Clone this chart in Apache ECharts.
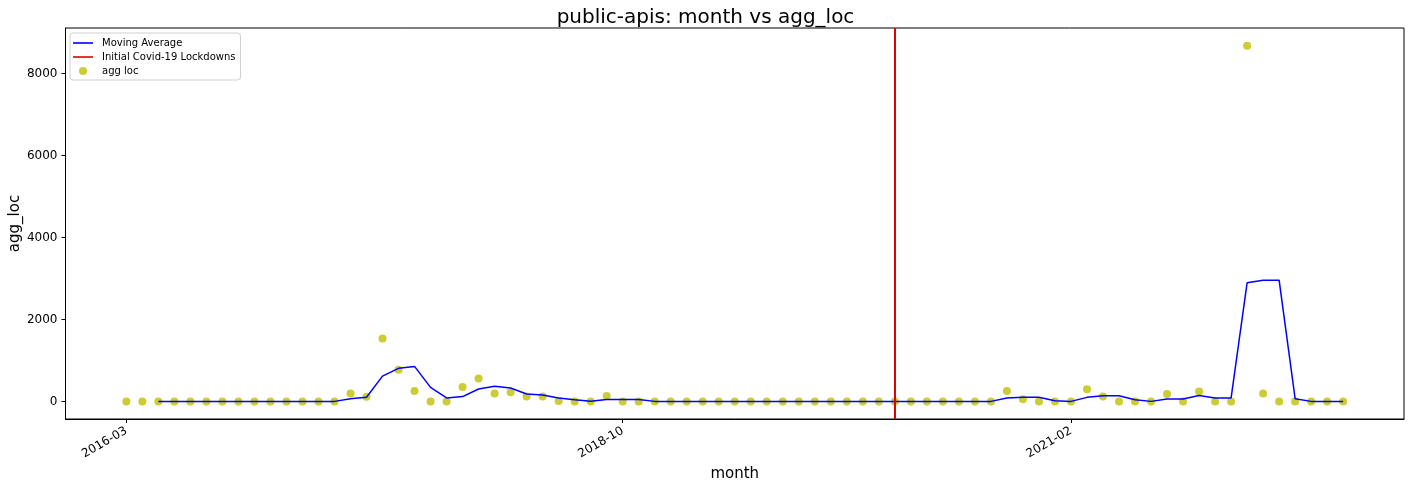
<!DOCTYPE html>
<html>
<head>
<meta charset="utf-8">
<script src="https://cdn.jsdelivr.net/npm/echarts@6/dist/echarts.min.js"></script>
<style>
  html, body { margin: 0; padding: 0; background: #fff; }
  #chart { width: 1411px; height: 489px; }
</style>
</head>
<body>
<div id="chart"></div>
<script>
// months 2016-03 .. 2022-07
var months = [];
for (var y = 2016, m = 3; months.length < 77; m++) {
  if (m > 12) { m = 1; y++; }
  months.push(y + '-' + (m < 10 ? '0' + m : m));
}

var aggLoc = [
  0, 0, 0, 0, 0, 0, 0, 0, 0, 0, 0, 0, 0, 0, 195, 112, 1537, 771, 251, 0,
  0, 349, 561, 195, 220, 122, 122, 10, 0, 0, 130, 0, 0, 0, 0, 0, 0, 0, 0, 0,
  0, 0, 0, 0, 0, 0, 0, 0, 0, 0, 0, 0, 0, 0, 0, 251, 49, 0, 0, 0,
  293, 122, 0, 0, 0, 178, 0, 244, 0, 0, 8676, 195, 0, 0, 0, 0, 0
];

var movingAvg = [
  null, null, 0, 0, 0, 0, 0, 0, 0, 0, 0, 0, 0, 0, 65, 102, 615, 807, 853, 341,
  84, 116, 303, 368, 325, 179, 155, 81, 41, 3, 43, 43, 43, 0, 0, 0, 0, 0, 0, 0,
  0, 0, 0, 0, 0, 0, 0, 0, 0, 0, 0, 0, 0, 0, 0, 84, 100, 100, 16, 0,
  98, 138, 138, 41, 0, 59, 59, 141, 81, 81, 2892, 2957, 2957, 65, 0, 0, 0
];

var tickMonths = ['2016-03', '2018-10', '2021-02'];
var yTicks = [0, 2000, 4000, 6000, 8000];
var lockdownMonth = '2020-03';

var chart = echarts.init(document.getElementById('chart'));

var tickIdx = tickMonths.map(function (t) { return months.indexOf(t); });

var option = {
  animation: false,
  backgroundColor: '#fff',
  title: {
    text: 'public-apis: month vs agg_loc',
    left: 'center',
    top: 3,
    textStyle: { fontFamily: 'DejaVu Sans', fontSize: 20, fontWeight: 'normal', color: '#000' }
  },
  legend: {
    orient: 'vertical',
    left: 70,
    top: 33,
    itemWidth: 20,
    itemHeight: 8,
    itemGap: 4,
    padding: [5, 5, 4, 3],
    borderColor: '#d0d0d0',
    borderWidth: 1,
    borderRadius: 3,
    textStyle: { fontFamily: 'DejaVu Sans', fontSize: 10, color: '#000', padding: [0, 0, 0, 4] },
    data: [
      { name: 'Moving Average', icon: 'path://M0,0 L20,0 L20,1.6 L0,1.6 Z' },
      { name: 'Initial Covid-19 Lockdowns', icon: 'path://M0,0 L20,0 L20,1.6 L0,1.6 Z' },
      { name: 'agg loc', icon: 'circle' }
    ]
  },
  grid: {
    left: 65.5,
    right: 7,
    top: 28,
    bottom: 70,
    containLabel: false,
    outerBoundsMode: 'none',
    show: true,
    borderColor: '#000',
    borderWidth: 1
  },
  xAxis: {
    type: 'value',
    min: -3.8,
    max: 79.8,
    name: 'month',
    nameLocation: 'middle',
    nameGap: 46,
    nameTextStyle: { fontFamily: 'DejaVu Sans', fontSize: 15, color: '#000' },
    splitLine: { show: false },
    axisLine: { onZero: false, lineStyle: { color: '#000' } },
    axisTick: { show: true, customValues: tickIdx, length: 4, lineStyle: { color: '#000', width: 1 } },
    axisLabel: {
      customValues: tickIdx,
      rotate: 30,
      margin: 11,
      fontFamily: 'DejaVu Sans',
      fontSize: 12,
      color: '#000',
      formatter: function (v) { return months[Math.round(v)] || ''; }
    }
  },
  yAxis: {
    type: 'value',
    min: -430,
    max: 9110,
    name: 'agg_loc',
    nameLocation: 'middle',
    nameGap: 43,
    nameMoveOverlap: false,
    nameTextStyle: { fontFamily: 'DejaVu Sans', fontSize: 15, color: '#000' },
    splitLine: { show: false },
    axisLine: { show: true, onZero: false, lineStyle: { color: '#000' } },
    axisTick: { show: true, customValues: yTicks, length: 4, lineStyle: { color: '#000', width: 1 } },
    axisLabel: {
      customValues: yTicks,
      margin: 8,
      fontFamily: 'DejaVu Sans',
      fontSize: 12,
      color: '#000',
      formatter: function (v) { return String(v); }
    }
  },
  series: [
    {
      name: 'Moving Average',
      type: 'line',
      color: '#0000ff',
      showSymbol: false,
      symbol: 'none',
      lineStyle: { width: 1.5, color: '#0000ff' },
      data: movingAvg.map(function (v, i) { return [i, v]; }),
      z: 3
    },
    {
      name: 'Initial Covid-19 Lockdowns',
      type: 'line',
      color: '#e00000',
      symbol: 'none',
      data: [],
      markLine: {
        silent: true,
        symbol: 'none',
        label: { show: false },
        lineStyle: { color: '#e00000', width: 2, type: 'solid' },
        data: [{ xAxis: months.indexOf(lockdownMonth) }]
      },
      z: 4
    },
    {
      name: 'agg loc',
      type: 'scatter',
      color: '#bfbf00',
      symbolSize: 8,
      itemStyle: { color: '#bfbf00' },
      data: aggLoc.map(function (v, i) { return [i, v]; }),
      z: 2
    }
  ]
};

chart.setOption(option);
</script>
</body>
</html>
